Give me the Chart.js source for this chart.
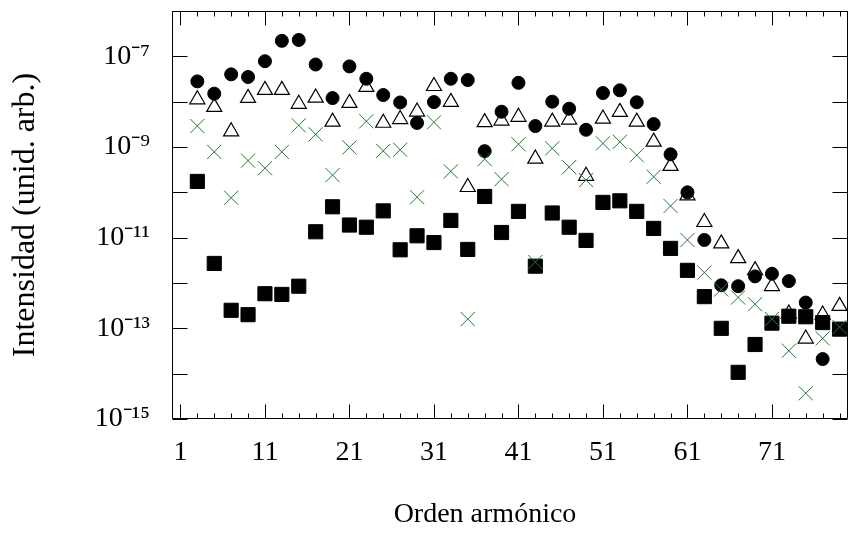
<!DOCTYPE html>
<html>
<head>
<meta charset="utf-8">
<script src="https://cdn.jsdelivr.net/npm/chart.js@4.4.1/dist/chart.umd.min.js"></script>
<style>
html,body{margin:0;padding:0;background:#fff;}
#wrap{width:848px;height:542px;position:relative;}
</style>
</head>
<body>
<div id="wrap"><canvas id="c" width="848" height="542"></canvas></div>
<script>
// Odd harmonic orders
const harmonics = [3,5,7,9,11,13,15,17,19,21,23,25,27,29,31,33,35,37,39,41,43,45,47,49,51,53,55,57,59,61,63,65,67,69,71,73,75,77,79];

// Filled circles
const circleSeries = [2.8e-8,1.5e-8,4.0e-8,3.5e-8,7.8e-8,2.2e-7,2.3e-7,6.6e-8,1.2e-8,6.0e-8,
  3.2e-8,1.4e-8,9.6e-9,3.4e-9,9.8e-9,3.2e-8,3.0e-8,8.1e-10,6.0e-9,2.6e-8,
  2.9e-9,1.0e-8,7.0e-9,2.4e-9,1.55e-8,1.78e-8,9.7e-9,3.2e-9,6.9e-10,1.0e-10,
  8.9e-12,8.9e-13,8.5e-13,1.4e-12,1.6e-12,1.1e-12,3.7e-13,2.1e-14,null];

// Open triangles
const triangleSeries = [1.12e-8,7.6e-9,2.2e-9,1.2e-8,1.8e-8,1.8e-8,8.9e-9,1.22e-8,3.6e-9,9.3e-9,
  2.1e-8,3.4e-9,4.1e-9,6.0e-9,2.2e-8,9.8e-9,1.3e-10,3.5e-9,3.8e-9,4.6e-9,
  5.5e-10,3.6e-9,4.0e-9,2.3e-10,4.2e-9,5.9e-9,3.6e-9,1.3e-9,3.8e-10,8.5e-11,
  2.2e-11,7.4e-12,3.5e-12,1.9e-12,8.5e-13,2.1e-13,5.9e-14,2.0e-13,3.1e-13];

// Green crosses
const crossSeries = [2.9e-9,7.8e-10,7.6e-11,5.0e-10,3.4e-10,7.8e-10,3.0e-9,1.9e-9,2.4e-10,9.8e-10,
  3.7e-9,8.2e-10,8.7e-10,7.8e-11,3.5e-9,2.9e-10,1.6e-13,5.4e-10,1.95e-10,1.15e-9,
  2.9e-12,9.3e-10,3.6e-10,1.86e-10,1.2e-9,1.3e-9,6.6e-10,2.2e-10,5.0e-11,8.9e-12,
  1.7e-12,7.2e-13,4.8e-13,3.4e-13,1.6e-13,3.2e-14,3.7e-15,6.0e-14,1.07e-13];

// Filled squares
const squareSeries = [1.74e-10,2.7e-12,2.5e-13,2.0e-13,5.8e-13,5.6e-13,8.5e-13,1.35e-11,4.8e-11,1.9e-11,
  1.7e-11,3.9e-11,5.4e-12,1.1e-11,7.8e-12,2.4e-11,5.5e-12,8.1e-11,1.3e-11,3.8e-11,
  2.35e-12,3.5e-11,1.7e-11,8.7e-12,6.0e-11,6.5e-11,3.8e-11,1.6e-11,5.8e-12,1.9e-12,
  5.0e-13,1.0e-13,1.07e-14,4.4e-14,1.3e-13,1.85e-13,1.8e-13,1.34e-13,9.6e-14];

// Axis ticks / labels
const xTickValues = [1,11,21,31,41,51,61,71];
const yDecadeExponents = [-15,-14,-13,-12,-11,-10,-9,-8,-7,-6];
const yTickLabels = {'-7':'10⁻⁷','-9':'10⁻⁹','-11':'10⁻¹¹','-13':'10⁻¹³','-15':'10⁻¹⁵'};
const xTitle = 'Orden armónico';
const yTitle = 'Intensidad (unid. arb.)';

const FONT = "'Liberation Serif','Times New Roman',serif";
const toPts = arr => harmonics.map((h,i) => ({x:h, y:arr[i]})).filter(p => p.y !== null);

const framePlugin = {
  id: 'frame',
  beforeDatasetsDraw(chart) {
    const {ctx, chartArea:a, scales:{x, y}} = chart;
    ctx.save();
    ctx.strokeStyle = '#000';
    ctx.lineWidth = 1;
    const L = Math.round(a.left) + 0.5, R = Math.round(a.right) - 0.5;
    const T = Math.round(a.top) + 0.5, B = Math.round(a.bottom) - 0.5;
    ctx.beginPath();
    ctx.moveTo(L, T); ctx.lineTo(R, T); ctx.lineTo(R, B); ctx.lineTo(L, B); ctx.closePath();
    // x ticks on bottom and top (major every 10, minor every 2)
    for (let h = 1; h <= x.max; h += 2) {
      const px = Math.round(x.getPixelForValue(h)) + 0.5;
      const len = ((h - 1) % 10 === 0) ? 14 : 5;
      ctx.moveTo(px, B); ctx.lineTo(px, B - len);
      ctx.moveTo(px, T); ctx.lineTo(px, T + len);
    }
    // y ticks on left and right (each decade)
    yDecadeExponents.forEach(e => {
      const py = Math.round(y.getPixelForValue(Math.pow(10, e))) + 0.5;
      ctx.moveTo(L, py); ctx.lineTo(L + 15, py);
      ctx.moveTo(R, py); ctx.lineTo(R - 15, py);
    });
    ctx.stroke();
    ctx.restore();
  },
  afterDraw(chart) {
    const {ctx, chartArea:a} = chart;
    ctx.save();
    ctx.fillStyle = '#000';
    ctx.font = '28px ' + FONT;
    ctx.textAlign = 'center';
    ctx.textBaseline = 'middle';
    ctx.fillText(xTitle, (a.left + a.right) / 2 - 25, 515);
    ctx.restore();
  }
};

const zeroPad = s => { s.paddingTop = 0; s.paddingBottom = 0; s.paddingLeft = 0; s.paddingRight = 0; };

new Chart(document.getElementById('c'), {
  type: 'scatter',
  data: {
    datasets: [
      { label: 'cruces', data: toPts(crossSeries), pointStyle: 'crossRot', radius: 10,
        borderColor: '#1f7a2e', backgroundColor: '#1f7a2e', borderWidth: 1 },
      { label: 'cuadrados', data: toPts(squareSeries), pointStyle: 'rect', radius: 10,
        borderColor: '#000', backgroundColor: '#000', borderWidth: 1 },
      { label: 'triángulos', data: toPts(triangleSeries), pointStyle: 'triangle', radius: 8.7,
        borderColor: '#000', backgroundColor: 'rgba(0,0,0,0)', borderWidth: 1.2 },
      { label: 'círculos', data: toPts(circleSeries), pointStyle: 'circle', radius: 6.5,
        borderColor: '#000', backgroundColor: '#000', borderWidth: 1 }
    ]
  },
  options: {
    responsive: false,
    devicePixelRatio: 1,
    animation: false,
    events: [],
    clip: false,
    layout: { autoPadding: false, padding: { left: 0, right: -4, top: 11, bottom: 73 } },
    plugins: { legend: { display: false }, tooltip: { enabled: false } },
    scales: {
      x: {
        type: 'linear', min: 0, max: 80,
        grid: { display: false, drawTicks: false, tickLength: 0 },
        border: { display: false },
        afterBuildTicks: s => { s.ticks = xTickValues.map(v => ({value: v})); },
        afterFit: s => { s.height = 50; zeroPad(s); },
        ticks: { padding: 17, maxRotation: 0, autoSkip: false, color: '#000',
                 font: { family: FONT, size: 28 }, callback: v => String(v) }
      },
      y: {
        type: 'logarithmic', min: 1e-15, max: 1e-6,
        grid: { display: false, drawTicks: false, tickLength: 0 },
        border: { display: false },
        afterBuildTicks: s => { s.ticks = yDecadeExponents.map(e => ({value: Math.pow(10, e)})); },
        afterFit: s => { s.width = 172; zeroPad(s); },
        ticks: { padding: 22, autoSkip: false, color: '#000',
                 font: { family: FONT, size: 28 },
                 callback: v => { const e = Math.round(Math.log10(v)); return yTickLabels[String(e)] || ''; } },
        title: { display: true, text: yTitle, color: '#000', font: { family: FONT, size: 32 },
                 padding: { top: 6, bottom: 0 } }
      }
    }
  },
  plugins: [framePlugin]
});
</script>
</body>
</html>
